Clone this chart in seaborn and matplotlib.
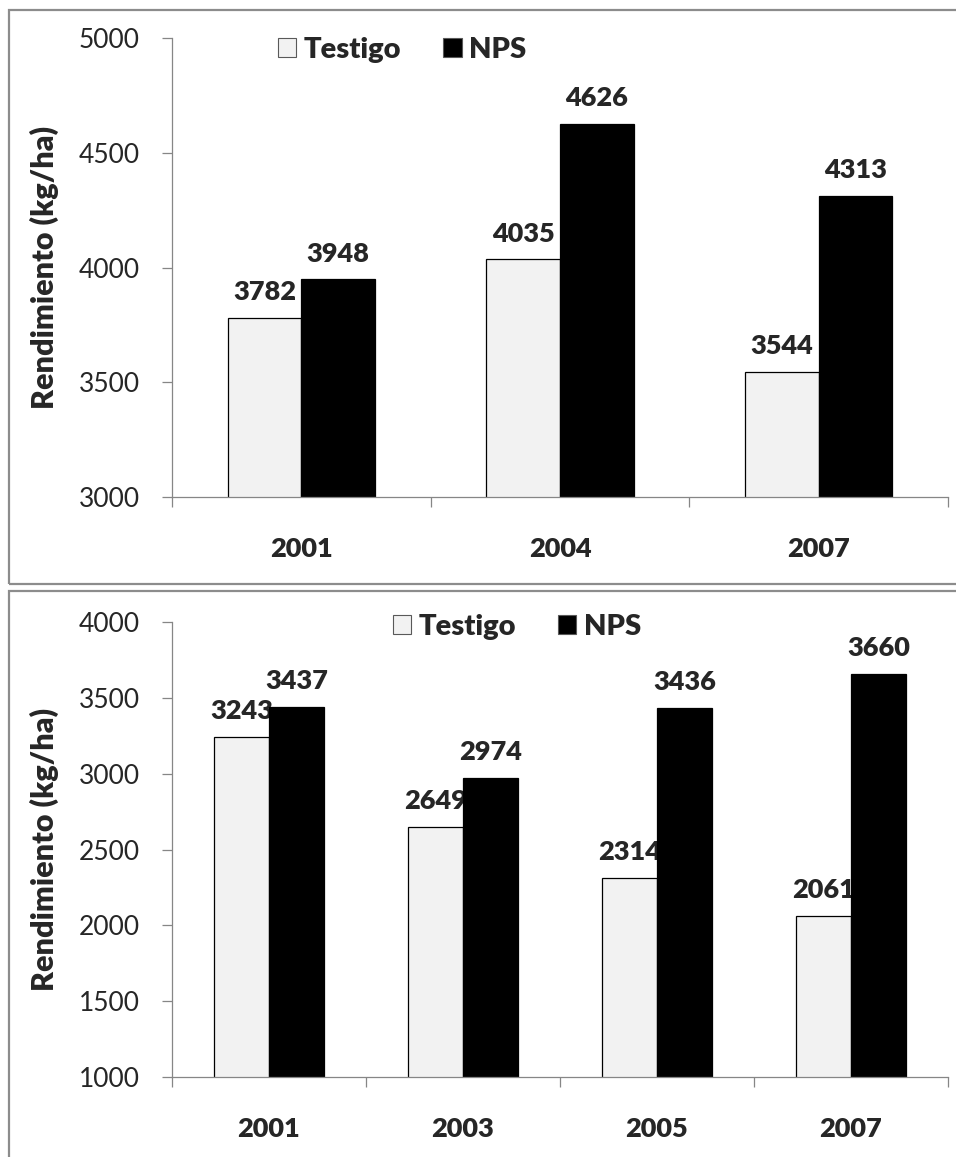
import matplotlib
matplotlib.use("Agg")
import matplotlib.pyplot as plt
from matplotlib.patches import Rectangle
import numpy as np
import pandas as pd
import seaborn as sns

# Yield per treatment, two trial series
years_a = ["2001", "2004", "2007"]
testigo_a = [3782, 4035, 3544]
nps_a = [3948, 4626, 4313]

years_b = ["2001", "2003", "2005", "2007"]
testigo_b = [3243, 2649, 2314, 2061]
nps_b = [3437, 2974, 3436, 3660]

treatments = ["Testigo", "NPS"]
ylabel = "Rendimiento (kg/ha)"

sns.set_theme(style="white")
plt.rcParams["font.family"] = ["Lato", "DejaVu Sans"]

W, H = 956, 1157
fig = plt.figure(figsize=(W / 100, H / 100), dpi=100)

palette = {"Testigo": "#F2F2F2", "NPS": "#000000"}
axis_gray = "#868686"
BOLD = "heavy"


def px_axes(left, top, right, bottom):
    return fig.add_axes([left / W, 1 - bottom / H, (right - left) / W, (bottom - top) / H])


def panel(ax, years, testigo, nps, ylim, yticks, leg_x, leg_y):
    df = pd.DataFrame({
        "Año": years * 2,
        "Rendimiento": testigo + nps,
        "Tratamiento": ["Testigo"] * len(years) + ["NPS"] * len(years),
    })
    sns.barplot(data=df, x="Año", y="Rendimiento", hue="Tratamiento",
                hue_order=treatments, palette=palette, width=0.57, gap=0,
                edgecolor="black", linewidth=0.9, errorbar=None, ax=ax,
                legend=True)
    n = len(years)
    ax.set_xlim(-0.5, n - 0.5)
    ax.set_ylim(*ylim)
    ax.set_yticks(yticks)
    ax.set_yticklabels([str(v) for v in yticks], fontsize=19)

    # NPS bars sit above the Testigo value labels
    for p in ax.containers[1]:
        p.set_zorder(3)
    lab_t = ax.bar_label(ax.containers[0], fmt="%d", padding=10,
                         fontsize=19.5, fontweight=BOLD)
    for t in lab_t:
        t.set_zorder(2.5)
    lab_n = ax.bar_label(ax.containers[1], fmt="%d", padding=10,
                         fontsize=19.5, fontweight=BOLD)
    for t in lab_n:
        t.set_zorder(4)

    ax.set_xlabel("")
    ax.set_ylabel(ylabel, fontsize=22, fontweight=BOLD)
    ax.yaxis.set_label_coords(-0.146, 0.5)

    for s in ["top", "right"]:
        ax.spines[s].set_visible(False)
    for s in ["left", "bottom"]:
        ax.spines[s].set_color(axis_gray)
        ax.spines[s].set_linewidth(0.9)
        ax.spines[s].set_zorder(5)

    ax.set_xticks(range(n))
    ax.set_xticklabels(years, fontsize=19.5, fontweight=BOLD)
    ax.set_xticks(np.arange(-0.5, n, 1.0), minor=True)
    ax.tick_params(axis="x", which="major", length=0, pad=29)
    ax.tick_params(axis="x", which="minor", bottom=True, length=7,
                   width=0.9, color=axis_gray, direction="out")
    ax.tick_params(axis="y", left=True, length=7, width=0.9,
                   color=axis_gray, direction="out", pad=16)

    handles, labels = ax.get_legend_handles_labels()
    for h in handles:
        h.set_edgecolor("#595959")
        h.set_linewidth(0.8)
    ax.legend(handles, labels, ncol=2, frameon=False, loc="center left",
              bbox_to_anchor=(leg_x, leg_y), borderaxespad=0, borderpad=0,
              handlelength=0.62, handleheight=0.62, handletextpad=0.25,
              columnspacing=1.45, prop={"weight": BOLD, "size": 21})
    ax.grid(False)


ax1 = px_axes(172, 38, 948, 497)
panel(ax1, years_a, testigo_a, nps_a, (3000, 5000),
      [3000, 3500, 4000, 4500, 5000], 0.137, 0.974)

ax2 = px_axes(172, 622, 948, 1077)
panel(ax2, years_b, testigo_b, nps_b, (1000, 4000),
      [1000, 1500, 2000, 2500, 3000, 3500, 4000], 0.285, 0.989)

# Chart-area frames around each panel
frame_kw = dict(transform=None, fill=False, edgecolor="#8C8C8C", linewidth=1.6)
fig.patches.append(Rectangle((8.5, H - 583.5), 960, 574, **frame_kw))
fig.patches.append(Rectangle((8.5, H - 1170), 960, 1170 - 590.5, **frame_kw))

fig.savefig("out.png", dpi=100)
